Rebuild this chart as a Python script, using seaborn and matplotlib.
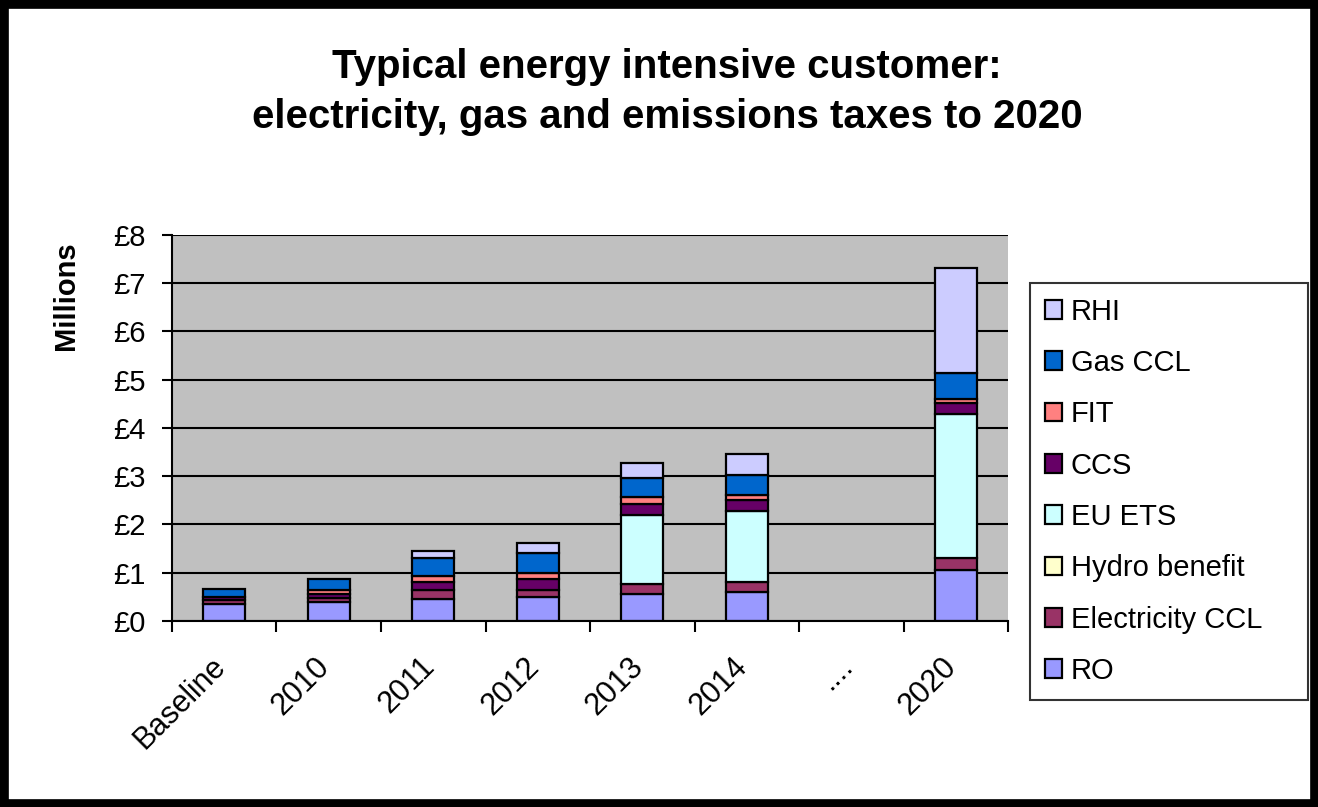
import matplotlib
matplotlib.use("Agg")
import matplotlib.pyplot as plt
from matplotlib.patches import Rectangle
from matplotlib.transforms import ScaledTranslation
import seaborn as sns
import numpy as np

# data (millions of pounds)
years = ['Baseline', '2010', '2011', '2012', '2013', '2014', '....', '2020']
ro = [0.35, 0.39, 0.45, 0.49, 0.56, 0.61, 0, 1.06]
elec_ccl = [0.09, 0.08, 0.19, 0.15, 0.21, 0.20, 0, 0.24]
hydro = [0, 0, 0, 0, 0, 0, 0, 0]
eu_ets = [0, 0, 0, 0, 1.42, 1.47, 0, 3.00]
ccs = [0.05, 0.08, 0.17, 0.22, 0.23, 0.22, 0, 0.21]
fit = [0, 0.09, 0.12, 0.13, 0.14, 0.11, 0, 0.10]
gas_ccl = [0.17, 0.22, 0.37, 0.41, 0.41, 0.41, 0, 0.52]
rhi = [0, 0, 0.16, 0.21, 0.30, 0.44, 0, 2.19]

series = ['RO', 'Electricity CCL', 'Hydro benefit', 'EU ETS', 'CCS', 'FIT', 'Gas CCL', 'RHI']
values = [ro, elec_ccl, hydro, eu_ets, ccs, fit, gas_ccl, rhi]
colors = ['#9999ff', '#993366', '#ffffcc', '#ccffff', '#660066', '#ff8080', '#0066cc', '#ccccff']

plt.rcParams['font.family'] = ['Liberation Sans', 'DejaVu Sans']

fig = plt.figure(figsize=(13.18, 8.07), dpi=100)
ax = fig.add_axes([0.1305, 0.2305, 0.6343, 0.4783])
ax.set_facecolor('#c0c0c0')

bottom = np.zeros(len(years))
for name, vals, col in zip(series, values, colors):
    sns.barplot(x=years, y=vals, bottom=bottom, color=col, width=0.4, saturation=1,
                edgecolor='black', linewidth=1.6, label=name, ax=ax)
    bottom = bottom + np.array(vals)

handles, labels = ax.get_legend_handles_labels()
if ax.get_legend() is not None:
    ax.get_legend().remove()

ax.set_ylim(0, 8)
ax.set_xlim(-0.5, len(years) - 0.5)
ax.set_yticks(range(9))
ax.set_yticklabels([f'£{i}' for i in range(9)], fontsize=21)
ax.yaxis.grid(True, color='black', linewidth=1.5)
ax.set_axisbelow(True)
for s in ['top', 'right']:
    ax.spines[s].set_visible(False)
for s in ['left', 'bottom']:
    ax.spines[s].set_linewidth(1.5)
ax.tick_params(axis='y', length=7, width=1.5, pad=12)

# labels at bar centres, tick marks at category boundaries
ax.set_xticks(range(len(years)))
ax.set_xticklabels(years, rotation=45, ha='right', rotation_mode='anchor', fontsize=22)
ax.tick_params(axis='x', which='major', length=0, pad=22)
ax.set_xticks(np.arange(-0.5, len(years)), minor=True)
ax.tick_params(axis='x', which='minor', length=8, width=1.5)
ax.set_xlabel('')
shift = ScaledTranslation(-0.14, 0, fig.dpi_scale_trans)
for lab in ax.get_xticklabels():
    lab.set_transform(lab.get_transform() + shift)

fig.text(0.050, 0.634, 'Millions', rotation=90, fontsize=21, fontweight='bold',
         ha='center', va='center')

fig.suptitle('Typical energy intensive customer:\nelectricity, gas and emissions taxes to 2020',
             x=0.506, y=0.94, fontsize=29, fontweight='bold', linespacing=1.4)

leg = fig.legend(handles[::-1], labels[::-1], loc='upper left',
                 bbox_to_anchor=(0.7815, 0.1363, 0.211, 0.5130), mode='expand',
                 frameon=True, fancybox=False,
                 fontsize=21, handlelength=0.6, handleheight=0.6, handletextpad=0.3,
                 labelspacing=0.8, borderpad=0.5, borderaxespad=0, edgecolor='black')
leg.get_frame().set_linewidth(1.5)

# empty segments should not leave an outline (after the legend has copied the style)
for p in ax.patches:
    if p.get_height() == 0:
        p.set_linewidth(0)

fig.patches.append(Rectangle((0, 0), 1, 1, transform=fig.transFigure, fill=False,
                             edgecolor='black', linewidth=12))

fig.savefig('out.png', dpi=100)
